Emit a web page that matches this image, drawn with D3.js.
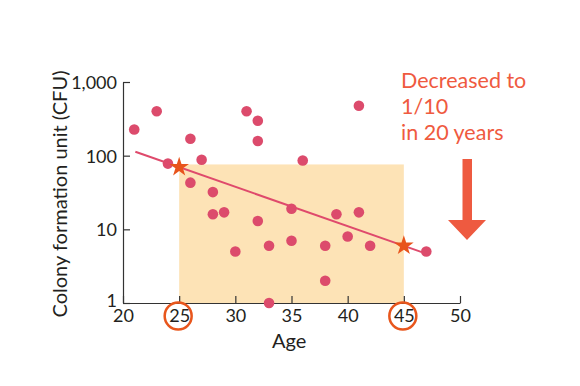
<!DOCTYPE html>
<html>
<head>
<meta charset="utf-8">
<script src="https://cdn.jsdelivr.net/npm/d3@7"></script>
<style>
  body { margin: 0; background: #fff; }
  svg text { font-family: "Lato", "Noto Sans", sans-serif; }
</style>
</head>
<body>
<svg width="580" height="386"></svg>
<script>
// data
const ages = [21, 23, 24, 26, 26, 27, 28, 28, 29, 30, 31, 32, 32, 32, 33, 33, 35, 35, 36, 38, 38, 39, 40, 41, 41, 42, 47];
const cfu  = [227, 400, 78, 170, 43, 88, 32, 16, 17, 5, 400, 298, 158, 13, 6, 1, 19, 7, 86, 6, 2, 16, 8, 475, 17, 6, 5];
const trendAges = [21.1, 46.6];
const trendCfu = [113, 4.9];
const starAges = [25, 45];
const starCfu = [70, 6];
const bandAges = [25, 45];
const bandTop = 76;
const xTicks = [20, 25, 30, 35, 40, 45, 50];
const yTicks = [1, 10, 100, 1000];
const circledTicks = [25, 45];
const noteLines = ["Decreased to", "1/10", "in 20 years"];

let svg = d3.select("svg");
const g = svg.append("g");

const x = d3.scaleLinear().domain([20, 50]).range([123, 460]);
const y = d3.scaleLog().domain([1, 1000]).range([303, 82]);

// shaded band
g.append("rect")
  .attr("x", x(bandAges[0]))
  .attr("y", y(bandTop))
  .attr("width", x(bandAges[1]) - x(bandAges[0]))
  .attr("height", y(1) - y(bandTop))
  .attr("fill", "#fde3b6");

// axes
const xAxis = g.append("g")
  .attr("transform", `translate(0,${y(1)})`)
  .call(d3.axisBottom(x).tickValues(xTicks).tickSizeInner(-7).tickSizeOuter(0).tickPadding(6));
const yAxis = g.append("g")
  .attr("transform", `translate(${x(20)},0)`)
  .call(d3.axisLeft(y).tickValues(yTicks).tickSizeInner(-7).tickSizeOuter(0).tickPadding(6).tickFormat(d3.format(",")));

[xAxis, yAxis].forEach(a => {
  a.select(".domain").attr("stroke", "#333").attr("stroke-width", 1.2);
  a.selectAll(".tick line").attr("stroke", "#333").attr("stroke-width", 1.2);
  a.selectAll(".tick text").attr("fill", "#231f20").style("font-size", "18px");
});
yAxis.selectAll(".tick text").attr("dy", d => d === 1 ? "0.2em" : "0.36em");

// circles around 25 and 45
g.selectAll(".ring")
  .data(circledTicks)
  .enter()
  .append("circle")
    .attr("class", "ring")
    .attr("cx", d => x(d) - 1)
    .attr("cy", 316)
    .attr("r", 13.5)
    .attr("fill", "none")
    .attr("stroke", "#e8561c")
    .attr("stroke-width", 2.5);

// axis titles
g.append("text")
  .attr("x", x(34.8))
  .attr("y", 348)
  .attr("text-anchor", "middle")
  .attr("fill", "#231f20")
  .style("font-size", "20px")
  .text("Age");

g.append("text")
  .attr("transform", "translate(67,194) rotate(-90)")
  .attr("text-anchor", "middle")
  .attr("fill", "#231f20")
  .style("font-size", "20px")
  .text("Colony formation unit (CFU)");

// points
g.selectAll(".dot")
  .data(ages.map((a, i) => ({ age: a, cfu: cfu[i] })))
  .enter()
  .append("circle")
    .attr("class", "dot")
    .attr("cx", d => x(d.age))
    .attr("cy", d => y(d.cfu))
    .attr("r", 5.3)
    .attr("fill", "#dc4b6c");

// trend line
const line = d3.line().x(d => x(d.age)).y(d => y(d.cfu));
g.append("path")
  .datum(trendAges.map((a, i) => ({ age: a, cfu: trendCfu[i] })))
  .attr("d", line)
  .attr("fill", "none")
  .attr("stroke", "#df4a6c")
  .attr("stroke-width", 2);

// stars
g.selectAll(".star")
  .data(starAges.map((a, i) => ({ age: a, cfu: starCfu[i] })))
  .enter()
  .append("path")
    .attr("class", "star")
    .attr("d", d3.symbol().type(d3.symbolStar).size(120))
    .attr("transform", d => `translate(${x(d.age)},${y(d.cfu)})`)
    .attr("fill", "#e8541c");

// note text
g.selectAll(".note")
  .data(noteLines)
  .enter()
  .append("text")
    .attr("class", "note")
    .attr("x", 401)
    .attr("y", (d, i) => 88 + i * 26)
    .attr("fill", "#ef5a40")
    .style("font-size", "21.5px")
    .text(d => d);

// down arrow
g.append("path")
  .attr("d", "M462.5,159 L472,159 L472,220 L486,220 L467,240 L448,220 L462.5,220 Z")
  .attr("fill", "#ee5a40");
</script>
</body>
</html>
